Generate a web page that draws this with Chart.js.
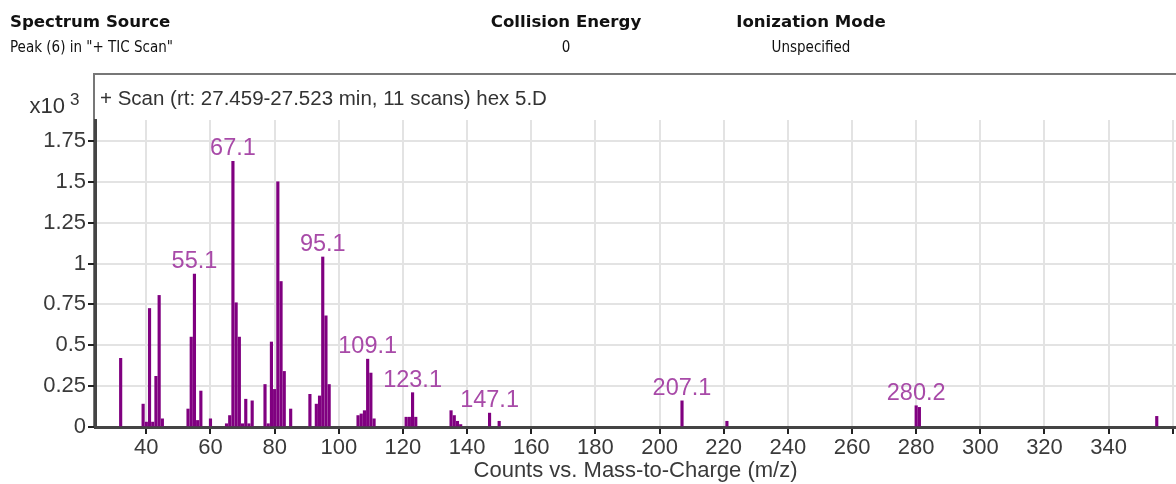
<!DOCTYPE html>
<html>
<head>
<meta charset="utf-8">
<script src="https://cdn.jsdelivr.net/npm/chart.js@4.4.1/dist/chart.umd.min.js"></script>
<style>
  html, body { margin: 0; padding: 0; background: #fff; }
  #wrap { position: relative; width: 1176px; height: 484px; overflow: hidden; }
  #spectrum { position: absolute; left: 0; top: 0; }
  .hd { position: absolute; font-family: 'DejaVu Sans Condensed', 'DejaVu Sans', sans-serif; color: #111; white-space: nowrap; }
  .b  { font-family: 'DejaVu Sans', sans-serif; font-weight: bold; font-size: 16.6px; }
  .r  { font-size: 15px; }
  .c  { transform: translateX(-50%); }
</style>
</head>
<body>
<div id="wrap">
  <canvas id="spectrum" width="1176" height="484"></canvas>
  <div class="hd b" style="left:10px; top:12px;">Spectrum Source</div>
  <div class="hd r" style="left:10px; top:38px;">Peak (6) in "+ TIC Scan"</div>
  <div class="hd b c" style="left:566px; top:12px;">Collision Energy</div>
  <div class="hd r c" style="left:566px; top:38px;">0</div>
  <div class="hd b c" style="left:811px; top:12px;">Ionization Mode</div>
  <div class="hd r c" style="left:811px; top:38px;">Unspecified</div>
</div>
<script>
// m/z of each peak and its height (x10^3 counts)
const mz = [
  32, 39, 40, 41, 42, 43, 44, 45,
  53, 54, 55, 56, 57, 60,
  65, 66, 67, 68, 69, 70, 71, 72, 73,
  77, 78, 79, 80, 81, 82, 83, 85,
  91, 93, 94, 95, 96, 97,
  106, 107, 108, 109, 110, 111,
  121, 122, 123, 124,
  135, 136, 137, 138, 147, 150,
  207, 221, 280, 281, 355
];
const counts = [
  0.42, 0.14, 0.03, 0.725, 0.03, 0.31, 0.805, 0.05,
  0.11, 0.55, 0.935, 0.04, 0.22, 0.05,
  0.02, 0.07, 1.625, 0.76, 0.55, 0.02, 0.17, 0.02, 0.16,
  0.26, 0.02, 0.52, 0.23, 1.50, 0.89, 0.34, 0.11,
  0.20, 0.14, 0.19, 1.04, 0.68, 0.26,
  0.07, 0.08, 0.10, 0.415, 0.33, 0.05,
  0.06, 0.06, 0.21, 0.06,
  0.10, 0.07, 0.035, 0.015, 0.085, 0.035,
  0.16, 0.035, 0.13, 0.12, 0.065
];

const peakMz   = [55, 67, 95, 109, 123, 147, 207, 280];
const peakText = ['55.1', '67.1', '95.1', '109.1', '123.1', '147.1', '207.1', '280.2'];

const xTicks      = [40, 60, 80, 100, 120, 140, 160, 180, 200, 220, 240, 260, 280, 300, 320, 340, 360];
const yTicks      = [0, 0.25, 0.5, 0.75, 1, 1.25, 1.5, 1.75];
const yTickLabels = ['0', '0.25', '0.5', '0.75', '1', '1.25', '1.5', '1.75'];

const FONT = "'Liberation Sans', Arial, sans-serif";

// box round the plot, scan title and the x10^3 factor
const framePlugin = {
  id: 'frame',
  beforeDraw(chart) {
    const { ctx, chartArea } = chart;
    ctx.save();
    ctx.strokeStyle = '#777';
    ctx.lineWidth   = 2;
    ctx.beginPath();
    ctx.moveTo(chartArea.left - 1, chartArea.bottom);
    ctx.lineTo(chartArea.left - 1, 74);
    ctx.lineTo(chart.width, 74);
    ctx.stroke();

    ctx.fillStyle    = '#333';
    ctx.font         = `20.5px ${FONT}`;
    ctx.textAlign    = 'left';
    ctx.textBaseline = 'middle';
    ctx.fillText('+ Scan (rt: 27.459-27.523 min, 11 scans) hex 5.D', chartArea.left + 5, 99);

    ctx.textBaseline = 'alphabetic';
    ctx.textAlign    = 'right';
    ctx.font         = `22px ${FONT}`;
    ctx.fillText('x10', 65, 113);
    ctx.textAlign = 'left';
    ctx.font      = `17px ${FONT}`;
    ctx.fillText('3', 70, 105);
    ctx.restore();
  },
};

const peakLabelPlugin = {
  id: 'peakLabels',
  afterDatasetsDraw(chart) {
    const { ctx, scales } = chart;
    ctx.save();
    ctx.fillStyle    = '#a84aa8';
    ctx.font         = `23.5px ${FONT}`;
    ctx.textAlign    = 'center';
    ctx.textBaseline = 'alphabetic';
    peakMz.forEach((m, i) => {
      const v = counts[mz.indexOf(m)];
      ctx.fillText(peakText[i], scales.x.getPixelForValue(m), scales.y.getPixelForValue(v) - 6);
    });
    ctx.restore();
  },
};

const ctx = document.getElementById('spectrum').getContext('2d');

new Chart(ctx, {
  type: 'bar',
  data: {
    datasets: [{
      data:            mz.map((m, i) => ({ x: m, y: counts[i] })),
      backgroundColor: '#800080',
      barThickness:    2.5,
      grouped:         false,
    }],
  },
  options: {
    responsive: false,
    animation:  false,
    layout: { padding: { top: 120, left: 0, right: 0, bottom: 0 } },
    plugins: {
      legend:  { display: false },
      tooltip: { enabled: false },
    },
    scales: {
      x: {
        type:   'linear',
        offset: false,
        min:    24,
        max:    361,
        afterBuildTicks: (s) => { s.ticks = xTicks.map((v) => ({ value: v })); },
        afterFit:        (s) => { s.height = 57; },
        ticks: {
          callback:    (v) => (v === 360 ? '' : String(v)),
          color:       '#3a3a3a',
          font:        { family: FONT, size: 22 },
          padding:     1,
          maxRotation: 0,
          autoSkip:    false,
        },
        grid: {
          offset:     false,
          color:      '#e3e3e3',
          lineWidth:  2,
          tickColor:  '#222',
          tickLength: 7,
          tickWidth:  2,
        },
        border: { color: '#444', width: 3 },
        title: {
          display: true,
          text:    'Counts vs. Mass-to-Charge (m/z)',
          color:   '#3a3a3a',
          font:    { family: FONT, size: 22 },
          padding: { top: 0, bottom: 0 },
        },
      },
      y: {
        min: 0,
        max: 1.878,
        afterBuildTicks: (s) => { s.ticks = yTicks.map((v) => ({ value: v })); },
        afterFit:        (s) => { s.width = 95; },
        ticks: {
          callback: (v) => yTickLabels[yTicks.indexOf(v)],
          color:    '#3a3a3a',
          font:     { family: FONT, size: 22 },
          padding:  2,
        },
        grid: {
          color:      '#e3e3e3',
          lineWidth:  2,
          tickColor:  '#222',
          tickLength: 7,
          tickWidth:  2,
        },
        border: { color: '#444', width: 3 },
      },
    },
  },
  plugins: [framePlugin, peakLabelPlugin],
});
</script>
</body>
</html>
